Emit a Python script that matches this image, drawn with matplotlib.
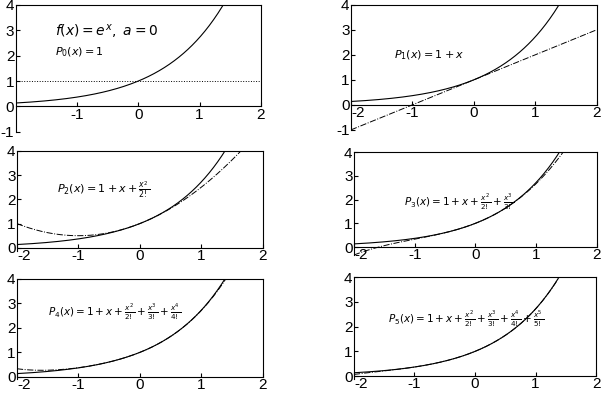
import numpy as np
import matplotlib.pyplot as plt
from math import factorial

# -----------------------------
# Data: e^x and its Taylor polynomials about a = 0
# -----------------------------
x_range = (-2.0, 2.0)
orders = [0, 1, 2, 3, 4, 5]
coefs = [1 / factorial(k) for k in range(6)]   # Taylor coefficients of e^x
x_ticks = [-2, -1, 0, 1, 2]
y_ticks_top = [-1, 0, 1, 2, 3, 4]
y_ticks = [0, 1, 2, 3, 4]

labels = [
    r"$P_0(x) = 1$",
    r"$P_1(x) = 1 + x$",
    r"$P_2(x) = 1 + x + \frac{x^2}{2!}$",
    r"$P_3(x) = 1 + x + \frac{x^2}{2!} + \frac{x^3}{3!}$",
    r"$P_4(x) = 1 + x + \frac{x^2}{2!} + \frac{x^3}{3!} + \frac{x^4}{4!}$",
    r"$P_5(x) = 1 + x + \frac{x^2}{2!} + \frac{x^3}{3!} + \frac{x^4}{4!} + \frac{x^5}{5!}$",
]
label_pos = [(-1.36, 2.15), (-1.3, 1.98), (-1.35, 2.4), (-1.18, 1.9), (-1.5, 2.65), (-1.44, 2.3)]
y_bottoms = [-1, -1, -0.15, -0.35, -0.1, -0.1]

# axes rectangles in figure fraction
rects = [
    [0.026, 0.667, 0.406, 0.321],
    [0.581, 0.672, 0.407, 0.316],
    [0.028, 0.365, 0.407, 0.254],
    [0.586, 0.355, 0.402, 0.261],
    [0.028, 0.042, 0.407, 0.254],
    [0.586, 0.044, 0.401, 0.256],
]

x = np.linspace(x_range[0], x_range[1], 400)
fx = np.exp(x)


def taylor(n, xs):
    return sum(coefs[k] * xs ** k for k in range(n + 1))


# -----------------------------
# Figure
# -----------------------------
plt.rcParams["font.family"] = ["Liberation Sans", "DejaVu Sans"]
plt.rcParams["mathtext.fontset"] = "dejavusans"
plt.rcParams["axes.unicode_minus"] = False

fig = plt.figure(figsize=(6.04, 3.96), dpi=100)

for i, n in enumerate(orders):
    ax = fig.add_axes(rects[i])
    ax.plot(x, fx, "k-", lw=0.8)
    style = ":" if n == 0 else "-."
    ax.plot(x, taylor(n, x) * np.ones_like(x), color="k", ls=style, lw=0.7)

    ax.set_xlim(*x_range)
    ax.set_ylim(y_bottoms[i], 4)

    ax.spines["bottom"].set_position(("data", 0))
    ax.spines["right"].set_bounds(0, 4)
    for s in ax.spines.values():
        s.set_linewidth(0.8)

    ax.set_yticks(y_ticks_top if i < 2 else y_ticks)
    if i == 0:
        ax.set_xticks(x_ticks[1:])
    else:
        ax.set_xticks(x_ticks)
        ax.get_xticklabels()[0].set_horizontalalignment("left")
    ax.tick_params(direction="in", length=3, labelsize=11, pad=1)

    ax.text(*label_pos[i], labels[i], fontsize=8 if n < 3 else 7.5, va="center")

    if n == 0:
        ax.text(-1.36, 2.95, r"$f(x) = e^x,\ a = 0$", fontsize=10, va="center")

fig.savefig("out.png", dpi=100)
